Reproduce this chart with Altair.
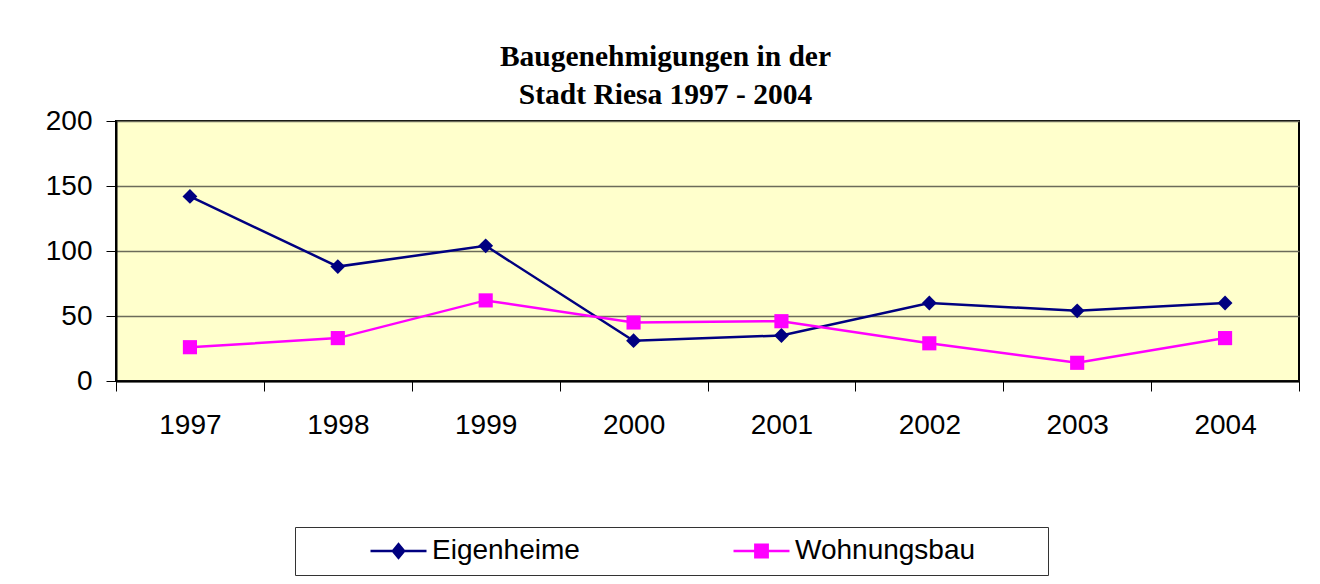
import altair as alt
import pandas as pd

years = ["1997", "1998", "1999", "2000", "2001", "2002", "2003", "2004"]
eigenheime = [142, 88, 104, 31, 35, 60, 54, 60]
wohnungsbau = [26, 33, 62, 45, 46, 29, 14, 33]
series = ["Eigenheime", "Wohnungsbau"]
colors = ["#000080", "#FF00FF"]
title_lines = ["Baugenehmigungen in der", "Stadt Riesa 1997 - 2004"]

df = pd.DataFrame({
    "Jahr": years * 2,
    "Wert": eigenheime + wohnungsbau,
    "Serie": [series[0]] * len(years) + [series[1]] * len(years),
})

# legend symbols: line stub with marker in the middle
legend_paths = [
    "M-1,0H1M-0.2,0L0,-0.24L0.2,0L0,0.24Z",
    "M-1,0H1M-0.22,-0.22H0.22V0.22H-0.22Z",
]

x_enc = alt.X(
    "Jahr:N", sort=years, bandPosition=0.5,
    scale=alt.Scale(type="band", paddingInner=0, paddingOuter=0),
    axis=alt.Axis(title=None, labelAngle=0, tickBand="extent", tickSize=10,
                  labelPadding=20, tickColor="black", tickWidth=1,
                  domainColor="black", domainWidth=2, grid=False),
)
y_enc = alt.Y(
    "Wert:Q", scale=alt.Scale(domain=[0, 200]),
    axis=alt.Axis(title=None, values=[0, 50, 100, 150, 200], tickSize=10,
                  labelPadding=14, tickColor="black", tickWidth=1,
                  domainColor="black", domainWidth=2,
                  grid=True, gridColor="#6b6b5a", gridWidth=1.5),
)

color_scale = alt.Scale(domain=series, range=colors)

# trailing no-break spaces (kept by a zero-width space) widen the legend box
pad_expr = ("datum.label == 'Wohnungsbau' ? datum.label + '"
            + "\u00a0" * 8 + "\u200b' : datum.label")

legend = alt.Legend(
    title=" ", titleOrient="left", titlePadding=64, titleFontSize=10,
    orient="none", legendX=179, legendY=406, direction="horizontal",
    padding=10, clipHeight=28, strokeColor="#333333", fillColor="white",
    labelFont="Liberation Sans", labelFontSize=28, labelColor="black",
    labelLimit=400, columnPadding=152, labelExpr=pad_expr,
    symbolSize=3136, symbolStrokeWidth=2.5, labelOffset=4,
)

lines = alt.Chart(df).mark_line(strokeWidth=2.5).encode(
    x=x_enc, y=y_enc,
    color=alt.Color("Serie:N", scale=color_scale, legend=None),
)
diamonds = alt.Chart(df).transform_filter(
    alt.datum.Serie == series[0]
).mark_point(filled=True, opacity=1, size=220, shape="diamond").encode(
    x=x_enc, y=y_enc,
    color=alt.Color("Serie:N", scale=color_scale, legend=None),
)
squares = alt.Chart(df).transform_filter(
    alt.datum.Serie == series[1]
).mark_point(filled=True, opacity=1, size=200, shape="square").encode(
    x=x_enc, y=y_enc,
    color=alt.Color("Serie:N", scale=color_scale, legend=None),
)
legend_layer = alt.Chart(df).mark_point(
    filled=True, opacity=0,
).encode(
    x=x_enc, y=y_enc,
    fill=alt.Fill("Serie:N", scale=alt.Scale(domain=series, range=colors), legend=legend),
    stroke=alt.Stroke("Serie:N", scale=alt.Scale(domain=series, range=colors), legend=legend),
    shape=alt.Shape("Serie:N", scale=alt.Scale(domain=series, range=legend_paths), legend=legend),
)

chart = alt.layer(lines, diamonds, squares, legend_layer).resolve_legend(
    fill="independent", stroke="independent", shape="independent",
).properties(
    width=1183, height=260,
    title=alt.Title(title_lines, font="Liberation Serif", fontSize=29.5,
                    fontWeight="bold", color="black", anchor="middle",
                    dx=-42, offset=-3, lineHeight=38),
    autosize=alt.AutoSizeParams(type="none"),
    padding={"left": 108, "top": 113, "right": 11, "bottom": 198},
    background="white",
).configure_view(
    fill="#FFFFCC", stroke="black", strokeWidth=2,
).configure_axis(
    labelFont="Liberation Sans", labelFontSize=28, labelColor="black",
).configure_legend(
    symbolOpacity=1,
)

chart.save("out.html", embed_options={"renderer": "svg", "actions": False})
